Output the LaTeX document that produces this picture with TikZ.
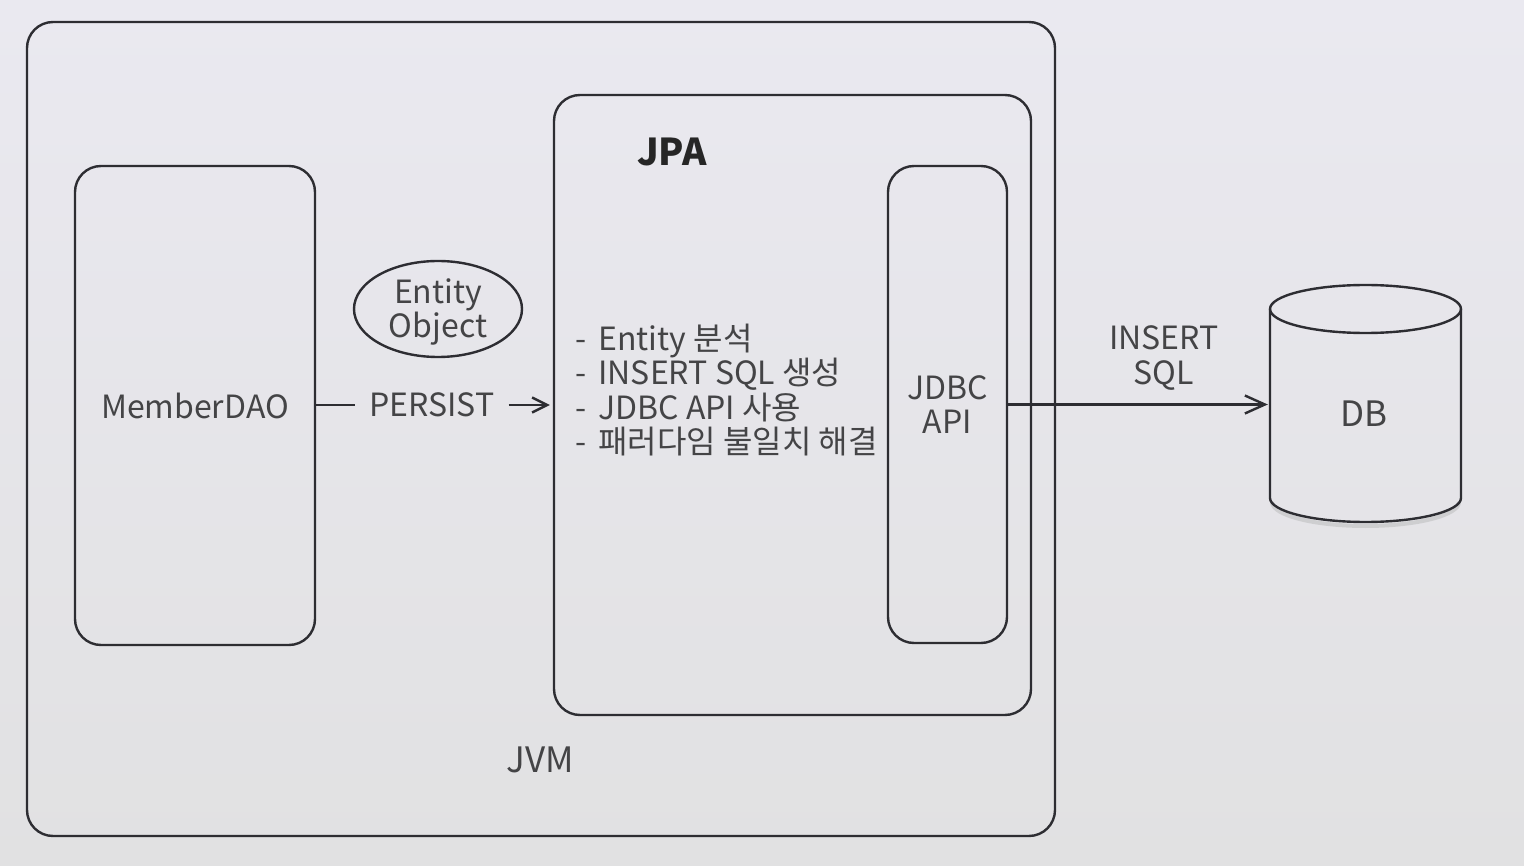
\documentclass[tikz,border=0pt]{standalone}
\usepackage{fontspec}
\setmainfont{Noto Sans CJK KR}
\usetikzlibrary{arrows.meta,shapes.geometric,positioning}

\definecolor{bgtop}{RGB}{234,233,240}
\definecolor{bgbot}{RGB}{225,225,226}
\definecolor{ink}{RGB}{45,45,50}
\definecolor{txt}{RGB}{68,68,70}

\begin{document}
\begin{tikzpicture}[x=1pt, y=-1pt,
    box/.style={draw=ink, line width=2.4pt, rounded corners=26pt, inner sep=0pt, text=txt,
      font=\fontsize{32}{34.5}\selectfont, align=center},
    lbl/.style={text=txt, font=\fontsize{32}{34.5}\selectfont, align=center, inner sep=0pt},
    conn/.style={draw=ink, line width=2.4pt},
    tip/.style={-{Straight Barb[length=15pt,width=15pt]}, shorten >=3pt},
    bigtip/.style={-{Straight Barb[length=20pt,width=18pt]}, shorten >=2pt}]

  % background
  \useasboundingbox (0,0) rectangle (1524,866);
  \shade[top color=bgtop, bottom color=bgbot] (0,0) rectangle (1524,866);

  % containers
  \node[box, minimum width=1028pt, minimum height=814pt] (jvm) at (541,429) {};
  \node[box, minimum width=240pt, minimum height=479pt] (dao) at (195,405.5) {MemberDAO};
  \node[box, minimum width=477pt, minimum height=620pt] (jpa) at (792.5,405) {};
  \node[box, minimum width=119pt, minimum height=477pt] (jdbc) at (947.5,404.5) {JDBC\\API};

  \node[lbl, font=\fontsize{37}{40}\selectfont\bfseries, text=black!85] (jpatitle) at (672,152) {JPA};
  \node[lbl, font=\fontsize{35}{40}\selectfont] (jvmtitle) at (540,760) {JVM};

  \node[lbl, anchor=west, align=left] (jpatasks) at (575,390)
    {-\hspace{5pt} Entity 분석\\-\hspace{5pt} INSERT SQL 생성\\-\hspace{5pt} JDBC API 사용\\-\hspace{5pt} 패러다임 불일치 해결};

  % entity object
  \node[draw=ink, line width=2.4pt, ellipse, minimum width=168pt, minimum height=96pt,
    inner sep=0pt, text=txt, font=\fontsize{32}{34}\selectfont, align=center] (entity) at (438,309) {};
  \node[lbl, font=\fontsize{32}{34}\selectfont] (entitytxt) at (438,312) {Entity\\Object};

  % persist
  \node[lbl, inner xsep=14pt] (persist) at (432,405) {PERSIST};
  \draw[conn] (persist.west -| dao.east) -- (persist.west);
  \draw[conn, tip] (persist.east) -- (persist.east -| jpa.west);

  % database
  \node[minimum width=191pt, minimum height=237pt, inner sep=0pt] (db) at (1365.5,403.5) {};
  \draw[line width=4pt, color=gray!55, opacity=0.5] (1272,502) arc[start angle=180, end angle=0, x radius=93.5, y radius=24];
  \draw[conn] (1270,309) -- (1270,498) arc[start angle=180, end angle=0, x radius=95.5, y radius=24] -- (1461,309);
  \draw[conn] (1365.5,309) ellipse[x radius=95.5, y radius=24];
  \node[lbl, font=\fontsize{35}{40}\selectfont] (dbtitle) at (1364,414) {DB};

  \node[lbl] (sqllbl) at (1164,358) {INSERT\\SQL};
  \draw[conn, bigtip] (jdbc.east) -- (jdbc.east -| db.west);

\end{tikzpicture}
\end{document}
